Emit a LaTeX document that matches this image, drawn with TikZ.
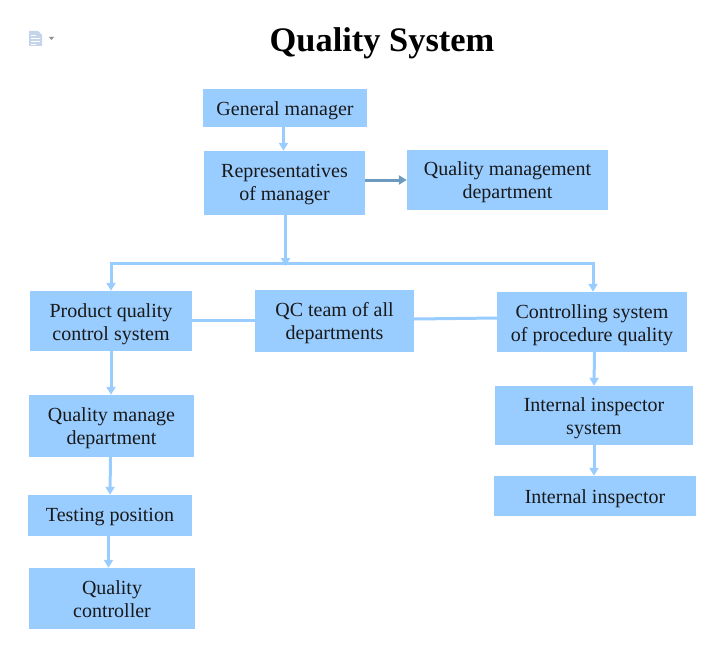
\documentclass[tikz,border=0pt]{standalone}
\usepackage{fontspec}
\setmainfont{Liberation Serif}
\usetikzlibrary{arrows.meta}
\definecolor{boxblue}{HTML}{99CCFF}
\definecolor{linkdark}{HTML}{6F9ABF}
\definecolor{iconblue}{HTML}{C4D4EA}
\tikzset{
	qbox/.style={fill=boxblue,inner sep=0pt,align=center,text=black!90,
		font=\fontsize{20}{23}\selectfont,text height=19pt,text depth=5pt},
	twoline/.style={text height=38pt,text depth=0pt},
	qlink/.style={color=boxblue,line width=3pt},
	qarrow/.style={qlink,-{Triangle[length=8pt,width=9pt]}},
}
\begin{document}
\begin{tikzpicture}[line cap=butt,line join=round,x=1pt,y=-1pt]
				\useasboundingbox (0,0) rectangle (719,658);
				% Title
				\node (title) at (382,43) {\fontsize{34.4}{38}\selectfont\bfseries Quality System};
				% Icon
				\fill[iconblue] (29,31)--(38,31)--(42,35)--(42,46)--(29,46)--cycle;
				\draw[white,line width=0.8pt] (31,35)--(36,35) (31,38)--(40,38) (31,41)--(40,41) (31,44)--(36,44);
				\fill[black!45] (49,37)--(54,37)--(51.5,40)--cycle;
				% Etage 1
				\node[qbox,minimum width=164pt,minimum height=38pt] (general) at (285,108) {General manager};
				\node[qbox,twoline,text height=35pt,minimum width=161pt,minimum height=64pt] (representatives) at (284.5,183) {Representatives\\of manager};
				\node[qbox,twoline,text height=36pt,minimum width=201pt,minimum height=60pt] (qmdept) at (507.5,180) {Quality management\\department};
				% Etage 2
				\coordinate (busmid) at (285.5,263);
				\coordinate (busleft) at (111,263);
				\coordinate (busright) at (593,263);
				\node[qbox,twoline,minimum width=162pt,minimum height=60pt] (product) at (111,321) {Product quality\\control system};
				\node[qbox,twoline,text height=36pt,minimum width=159pt,minimum height=62pt] (qcteam) at (334.5,321) {QC team of all\\departments};
				\node[qbox,twoline,minimum width=190pt,minimum height=60pt] (procedure) at (592,322) {Controlling system\\of procedure quality};
				% Etage 3, left
				\node[qbox,twoline,text height=36pt,minimum width=165pt,minimum height=62pt] (qmanage) at (111.5,426) {Quality manage\\department};
				\node[qbox,text height=17pt,minimum width=164pt,minimum height=41pt] (testing) at (110,515.5) {Testing position};
				\node[qbox,twoline,minimum width=166pt,minimum height=61pt] (controller) at (112,598.5) {Quality\\controller};
				% Etage 3, right
				\node[qbox,twoline,minimum width=198pt,minimum height=59pt] (insystem) at (594,415.5) {Internal inspector\\system};
				\node[qbox,minimum width=202pt,minimum height=40pt] (inspector) at (595,496) {Internal inspector};
				% Links
				\draw[qarrow] ([xshift=-1.5pt]general.south)--([xshift=-1pt]representatives.north);
				\draw[qarrow,color=linkdark] ([yshift=3pt]representatives.east)--(qmdept.west);
				\draw[qarrow] ([xshift=1pt]representatives.south)--([yshift=-3pt]busmid);
				\draw[qlink] (busleft)--(busright);
				\draw[qarrow] ([yshift=1.5pt]busleft)--(product.north);
				\draw[qarrow] ([yshift=1.5pt]busright)--(busright|-procedure.north);
				\draw[qlink] ([yshift=1pt]product.east)--([yshift=1pt]qcteam.west);
				\draw[qlink] ([yshift=2pt]qcteam.east)--([yshift=4pt]procedure.west);
				\draw[qarrow] (product.south)--(qmanage.north-|product.south);
				\draw[qarrow] ([xshift=-1pt]qmanage.south)--(testing.north);
				\draw[qarrow] ([xshift=-1.5pt]testing.south)--([xshift=-3.5pt]controller.north);
				\draw[qarrow] ([xshift=2.5pt]procedure.south)--(insystem.north);
				\draw[qarrow] (insystem.south)--(inspector.north-|insystem.south);
		\end{tikzpicture}
\end{document}
